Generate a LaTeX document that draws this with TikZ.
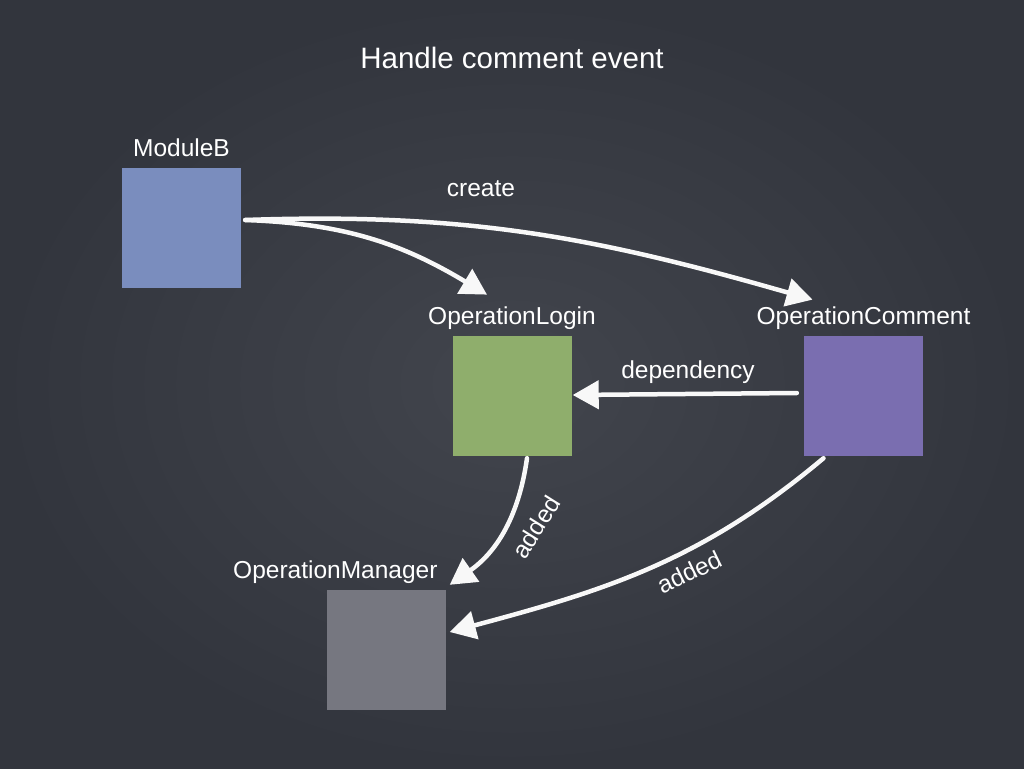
\documentclass[tikz,border=0pt]{standalone}
\usepackage{fontspec}
\setmainfont{Liberation Sans}
\usetikzlibrary{positioning,arrows.meta}
\definecolor{board}{RGB}{50,53,61}
\definecolor{boardmid}{RGB}{66,69,77}
\definecolor{modb}{RGB}{122,141,190}
\definecolor{login}{RGB}{143,174,108}
\definecolor{opcomment}{RGB}{122,110,176}
\definecolor{manager}{RGB}{118,119,128}
\definecolor{chalk}{RGB}{248,248,248}
\tikzset{
  card/.style={minimum width=119pt, minimum height=120pt, inner sep=0pt},
  tag/.style={text=white, font=\fontsize{24.5}{28}\selectfont, inner sep=0pt,
              text depth=0pt},
  chalkline/.style={draw=chalk, line width=4.5pt, line cap=round,
                    -{Triangle[length=26pt,width=28pt]}},
}

\begin{document}
\begin{tikzpicture}[x=1pt, y=1pt]

  %% chalkboard
  \shade[inner color=boardmid, outer color=board] (0,0) rectangle (1024,-768);
  \useasboundingbox (0,0) rectangle (1024,-768);

  \node[tag, font=\fontsize{29.5}{34}\selectfont, anchor=base] (title) at (512,-68)
    {Handle comment event};

  %% boxes
  \node[card, fill=modb] (mb) at (181.5,-228) {};
  \node[card, fill=login] (ol) at (512,-396) {};
  \node[card, fill=opcomment] (oc) at (863.5,-396) {};
  \node[card, fill=manager] (om) at (386,-650) {};

  \node[tag, above=11pt of mb] (mbl) {ModuleB};
  \node[tag, above=11pt of ol] (oll) {OperationLogin};
  \node[tag, above=11pt of oc] (ocl) {OperationComment};
  \node[tag, above left=11pt and 8pt of om.north east] (oml) {OperationManager};

  %% chalk arrows
  \draw[chalkline] ([shift={(4pt,8pt)}]mb.east) to[out=-2,in=149]
    ([shift={(-25pt,12pt)}]oll.north);
  \draw[chalkline] ([shift={(4pt,8pt)}]mb.east) to[out=2,in=164]
    ([shift={(-51pt,7pt)}]ocl.north);
  \draw[chalkline] ([shift={(-7pt,3pt)}]oc.west) -- ([shift={(1pt,1pt)}]ol.east);
  \draw[chalkline] ([shift={(15pt,-2pt)}]ol.south) to[out=-98,in=35]
    ([shift={(4pt,5pt)}]om.north east);
  \draw[chalkline] ([shift={(-40pt,-2pt)}]oc.south) to[out=-140,in=15]
    ([shift={(4pt,18pt)}]om.east);

  \node[tag, anchor=base] (create) at (481,-196) {create};
  \node[tag, anchor=base] (dep) at (688,-378) {dependency};
  \node[tag, rotate=58] (add1) at (536,-527) {added};
  \node[tag, rotate=26] (add2) at (689,-572) {added};
\end{tikzpicture}
\end{document}
